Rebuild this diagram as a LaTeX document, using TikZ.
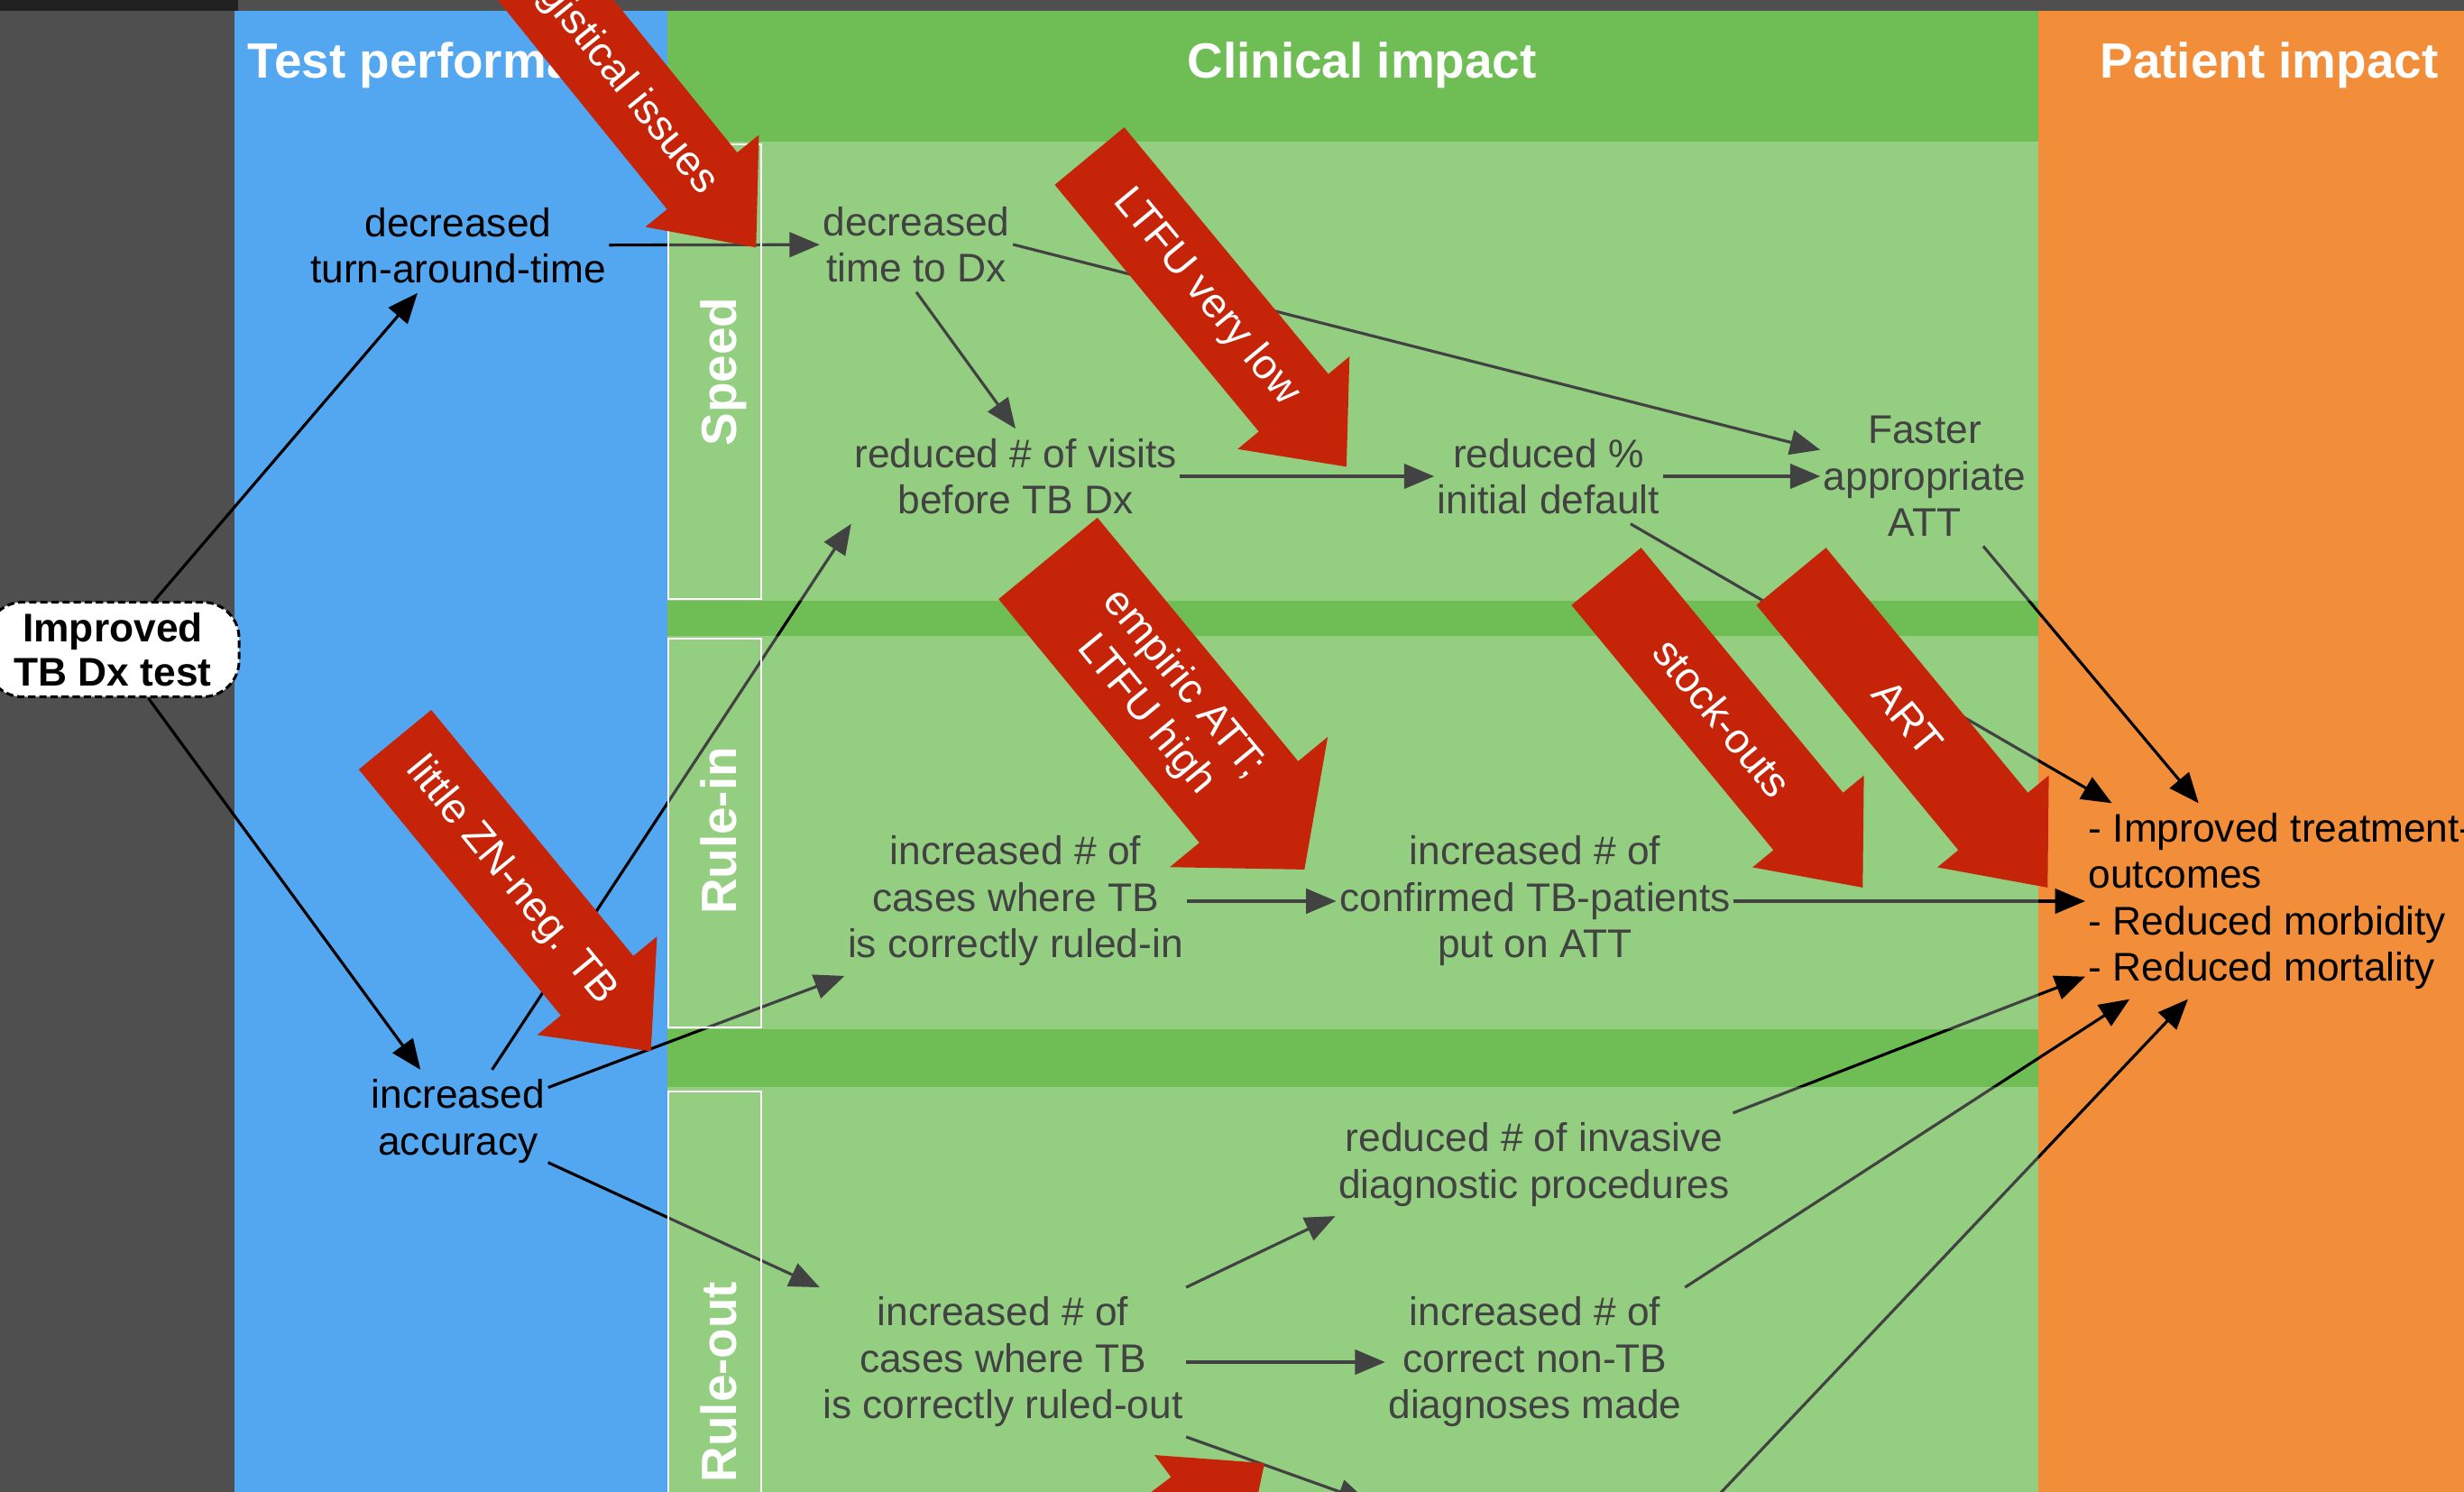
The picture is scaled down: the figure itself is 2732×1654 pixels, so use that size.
\documentclass[tikz,border=0pt]{standalone}
\usepackage{fontspec}
\setmainfont{Liberation Sans}
\usetikzlibrary{arrows.meta}

\definecolor{panelgray}{RGB}{79,79,79}
\definecolor{topbar}{RGB}{33,33,33}
\definecolor{testblue}{RGB}{82,167,240}
\definecolor{clingreen}{RGB}{110,190,85}
\definecolor{patorange}{RGB}{242,142,58}
\definecolor{barred}{RGB}{197,36,9}

\begin{document}
\begin{tikzpicture}[
    x=0.01cm, y=-0.01cm,
    txt/.style={align=center, inner xsep=0.85pt, inner ysep=2.85pt, font=\fontsize{12.6}{14.65}\selectfont},
    start/.style={draw, fill=white, rounded corners=0.4cm, minimum width=2.8cm, minimum height=1.04cm,
        align=center, line width=0.85pt, dash pattern=on 2.3pt off 1.2pt, font=\fontsize{12.6}{13.9}\selectfont\bfseries},
    head/.style={anchor=base, text=white, font=\fontsize{15.6}{18}\selectfont\bfseries},
    lane/.style={draw=white, line width=0.8pt},
    lanelabel/.style={anchor=base, rotate=90, text=white, font=\fontsize{15.6}{18}\selectfont\bfseries},
    arrow/.style={-{Triangle[length=9.5pt, width=7.8pt]}, line width=0.9pt},
    lightrow/.style={fill=white, fill opacity=0.26},
    barrier/.style={fill=barred},
    barrierlabel/.style={transform shape, text=white, align=center, font=\fontsize{13.2}{15.5}\selectfont}
]
\useasboundingbox (0,0) rectangle (2732,1654);
\clip (0,0) rectangle (2732,1654);

% Columns
\fill[panelgray] (0,0) rectangle (2732,1654);
\fill[topbar] (0,0) rectangle (264,12);
\fill[testblue] (260,12) rectangle (740,1654);
\fill[clingreen] (740,12) rectangle (2260,1654);
\fill[patorange] (2260,12) rectangle (2732,1654);

% Headers
\node[head] (hdtest) at (503,86) {Test performance};
\node[head] (hdclin) at (1510,86) {Clinical impact};
\node[head] (hdpat) at (2516,86) {Patient impact};

% Test
\node[start] (improved) at (125,720) {Improved\\TB Dx test};
\node[txt] (tat) at (508,272) {decreased\\turn-around-time};
\node[txt] (acc) at (508,1243) {increased\\accuracy};

% Speed
\node[txt] (time) at (1016,271) {decreased\\time to Dx};
\node[txt] (visits) at (1126,528) {reduced \# of visits\\before TB Dx};
\node[txt] (initdef) at (1717,528) {reduced \%\\initial default};
\node[txt] (faster) at (2134,528) {Faster\\appropriate\\ATT};

% Rule-in
\node[txt] (rulein) at (1126,999) {increased \# of\\cases where TB\\is correctly ruled-in};
\node[txt] (confirmed) at (1702,999) {increased \# of\\confirmed TB-patients\\put on ATT};

% Rule-out
\node[txt] (invasive) at (1701,1291) {reduced \# of invasive\\diagnostic procedures};
\node[txt] (ruleout) at (1112,1510) {increased \# of\\cases where TB\\is correctly ruled-out};
\node[txt] (nontb) at (1702,1510) {increased \# of\\correct non-TB\\diagnoses made};
\coordinate (offout) at (1517,1665);
\coordinate (offin) at (1868,1697);

% Patient
\node[txt, anchor=west, align=left] (outcomes) at (2312,999) {- Improved treatment-\\outcomes\\- Reduced morbidity\\- Reduced mortality};

% Arrows
\draw[arrow] (improved) -- (tat);
\draw[arrow] (improved) -- (acc);
\draw[arrow] (tat) -- (time);
\draw[arrow] (time.south) -- (visits.north);
\draw[arrow] (time.east) -- (faster);
\draw[arrow] (visits) -- (initdef);
\draw[arrow] (initdef) -- (faster);
\draw[arrow] (initdef) -- (outcomes);
\draw[arrow] (faster) -- (outcomes);
\draw[arrow] (acc) -- (visits.south west);
\draw[arrow] (acc) -- (rulein.south west);
\draw[arrow] (acc) -- (ruleout.north west);
\draw[arrow] (rulein) -- (confirmed);
\draw[arrow] (confirmed) -- (outcomes);
\draw[arrow] (ruleout.north east) -- (invasive.south west);
\draw[arrow] (ruleout) -- (nontb);
\draw[arrow] (ruleout.south east) -- (offout);
\draw[arrow] (invasive.north east) -- (outcomes);
\draw[arrow] (nontb.north east) -- (outcomes);
\draw[arrow] (offin) -- (outcomes);

% Lanes
\fill[lightrow] (740,157) rectangle (2260,666);
\fill[lightrow] (740,705) rectangle (2260,1141);
\fill[lightrow] (740,1205) rectangle (2260,1654);
\draw[lane] (741,160) rectangle (844,664);
\draw[lane] (741,708) rectangle (844,1139);
\draw[lane] (741,1210) rectangle (844,1700);
\node[lanelabel] (speedlbl) at (816,412) {Speed};
\node[lanelabel] (ruleinlbl) at (816,921) {Rule-in};
\node[lanelabel] (ruleoutlbl) at (816,1532) {Rule-out};

% Barriers
\foreach \nm/\tx/\ty/\ang/\sw/\hw/\hl/\txt in {
    logistic/557/-73/-51/50/81/95/{logistical issues},
    ltfu/1208/173/-50.4/50/80.5/92/{LTFU very low},
    empiric/1162/619/-50.5/71/113.5/97/{empiric ATT;\\LTFU high},
    zn/438/820/-50.6/52/86/94/{little ZN-neg. TB},
    stock/1781/639/-50.5/50/80/95/{stock-outs},
    art/1986/639/-50.5/50/80/95/{ART}} {
  \begin{scope}[shift={(\tx,\ty)}, rotate=\ang]
    \fill[barrier] (0,-\sw) -- ({447-\hl},-\sw) -- ({447-\hl},-\hw) -- (447,0)
      -- ({447-\hl},\hw) -- ({447-\hl},\sw) -- (0,\sw) -- cycle;
    \node[barrierlabel] (\nm) at (203,0) {\txt};
  \end{scope}
}
\begin{scope}[shift={(1045,1891)}, rotate=37]
  \fill[barrier] (0,-50) -- (355,-50) -- (355,-80.5) -- (447,0) -- (355,80.5) -- (355,50) -- (0,50) -- cycle;
\end{scope}
\end{tikzpicture}
\end{document}
